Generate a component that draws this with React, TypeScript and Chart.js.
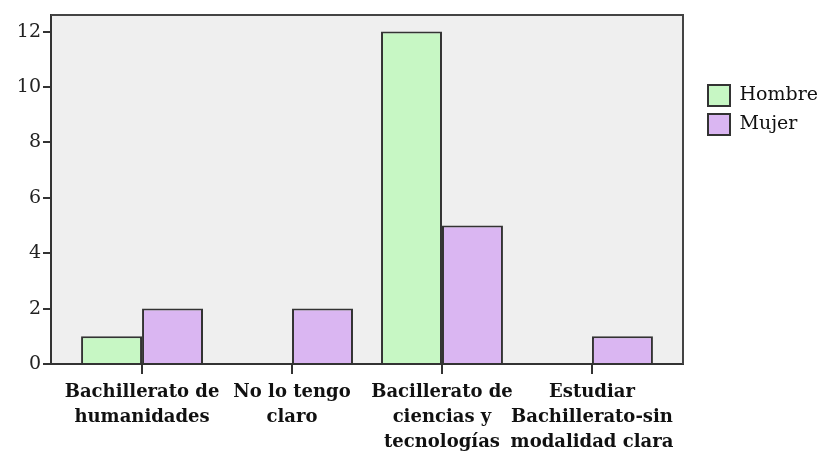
import React, { useEffect, useRef } from "react";
import { Chart, registerables } from "chart.js";

Chart.register(...registerables);

const categories: string[][] = [
  ["Bachillerato de", "humanidades"],
  ["No lo tengo", "claro"],
  ["Bacillerato de", "ciencias y", "tecnologías"],
  ["Estudiar", "Bachillerato-sin", "modalidad clara"],
];
const seriesNames = ["Hombre", "Mujer"];
const hombre: (number | null)[] = [1, null, 12, null];
const mujer: (number | null)[] = [2, 2, 5, 1];
const yTickValues = [0, 2, 4, 6, 8, 10, 12];

const GREEN = "#c7f7c4";
const PURPLE = "#dab6f2";
const EDGE = "#333333";

const framePlugin = {
  id: "frame",
  beforeDraw(chart: any) {
    const { ctx, chartArea: a } = chart;
    ctx.save();
    ctx.fillStyle = "#ffffff";
    ctx.fillRect(0, 0, chart.width, chart.height);
    ctx.fillStyle = "#efefef";
    ctx.fillRect(a.left, a.top, a.right - a.left, a.bottom - a.top);
    ctx.restore();
  },
  afterDatasetsDraw(chart: any) {
    const { ctx, chartArea: a } = chart;
    ctx.save();
    ctx.strokeStyle = "#444444";
    ctx.lineWidth = 2;
    ctx.beginPath();
    ctx.moveTo(a.left, a.top);
    ctx.lineTo(a.right, a.top);
    ctx.lineTo(a.right, a.bottom);
    ctx.stroke();
    ctx.restore();
  },
};

export default function App() {
  const ref = useRef<HTMLCanvasElement | null>(null);

  useEffect(() => {
    if (!ref.current) return;
    const toPts = (arr: (number | null)[]) => arr.map((v, i) => ({ x: i, y: v }));
    const chart = new Chart(ref.current, {
      type: "bar",
      data: {
        datasets: [
          {
            label: seriesNames[0],
            data: toPts(hombre) as any,
            backgroundColor: GREEN,
            borderColor: EDGE,
            borderWidth: 2,
            categoryPercentage: 0.813,
            barPercentage: 1,
          },
          {
            label: seriesNames[1],
            data: toPts(mujer) as any,
            backgroundColor: PURPLE,
            borderColor: EDGE,
            borderWidth: 2,
            categoryPercentage: 0.813,
            barPercentage: 1,
          },
        ],
      },
      options: {
        animation: false,
        responsive: true,
        maintainAspectRatio: false,
        events: [],
        layout: { padding: { top: 15, left: 0, right: 0, bottom: 0 } },
        plugins: {
          tooltip: { enabled: false },
          legend: {
            position: "right",
            align: "start",
            maxWidth: 126,
            title: {
              display: true,
              text: " ",
              padding: { top: 52, bottom: 0 },
              font: { size: 10, lineHeight: 1 },
            },
            labels: {
              boxWidth: 22,
              boxHeight: 21,
              padding: 8,
              color: "#111111",
              font: { family: "'DejaVu Serif'", size: 19 },
            },
          },
        },
        scales: {
          x: {
            type: "linear",
            min: -0.607,
            max: 3.607,
            offset: false,
            afterBuildTicks: (axis: any) => {
              axis.ticks = categories.map((_, i) => ({ value: i }));
            },
            afterFit: (axis: any) => {
              axis.height = 94;
            },
            ticks: {
              includeBounds: false,
              autoSkip: false,
              maxRotation: 0,
              padding: 6,
              color: "#111111",
              font: { family: "'DejaVu Serif'", size: 18, weight: "bold", lineHeight: 1.39 },
              callback: (v: any) => categories[Math.round(Number(v))] ?? "",
            },
            grid: {
              display: true,
              offset: false,
              drawOnChartArea: false,
              drawTicks: true,
              tickLength: 10,
              color: "#333333",
              lineWidth: 2,
            },
            border: { display: true, color: "#333333", width: 2 },
          },
          y: {
            type: "linear",
            min: 0,
            max: 12.6,
            afterBuildTicks: (axis: any) => {
              axis.ticks = yTickValues.map((v) => ({ value: v }));
            },
            afterFit: (axis: any) => {
              axis.width = 51;
            },
            ticks: {
              includeBounds: false,
              padding: 2,
              color: "#222222",
              font: { family: "'DejaVu Serif'", size: 19 },
              callback: (v: any) => String(v),
            },
            grid: {
              display: true,
              drawOnChartArea: false,
              drawTicks: true,
              tickLength: 8,
              color: "#333333",
              lineWidth: 2,
            },
            border: { display: true, color: "#333333", width: 2 },
          },
          y2: {
            type: "linear",
            position: "right",
            display: true,
            afterFit: (axis: any) => {
              axis.width = 17;
            },
            ticks: { display: false },
            grid: { display: false, drawTicks: false },
            border: { display: false },
          },
        },
      },
      plugins: [framePlugin],
    } as any);
    return () => chart.destroy();
  }, []);

  return (
    <div style={{ position: "absolute", left: 0, top: 0, width: 826, height: 458, background: "#fff" }}>
      <canvas ref={ref} />
    </div>
  );
}
